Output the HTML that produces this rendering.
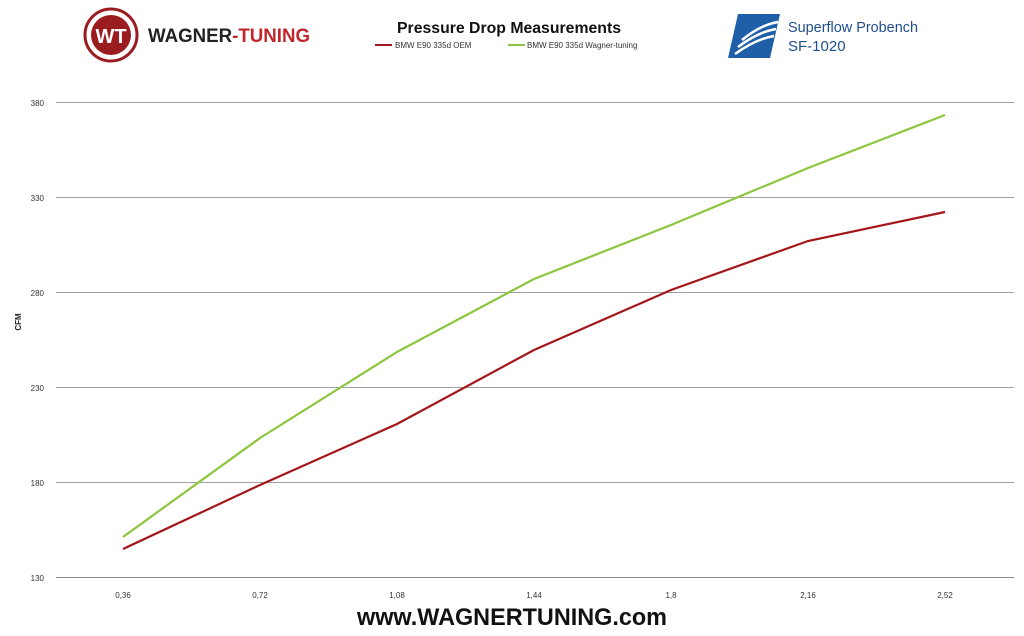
<!DOCTYPE html>
<html><head><meta charset="utf-8"><style>
body{margin:0;background:#fff;width:1024px;height:631px;overflow:hidden;font-family:"Liberation Sans",sans-serif;}
</style></head><body>
<svg width="1024" height="631" viewBox="0 0 1024 631" xmlns="http://www.w3.org/2000/svg" font-family="Liberation Sans, sans-serif">
<circle cx="111" cy="35" r="26" fill="#fff" stroke="#9b1c1f" stroke-width="3"/>
<circle cx="111" cy="35" r="20" fill="#9b1c1f"/>
<text x="111" y="43" font-size="20" font-weight="bold" fill="#fff" text-anchor="middle">WT</text>
<text x="148" y="42" font-size="19" font-weight="bold" fill="#222" textLength="162" lengthAdjust="spacingAndGlyphs">WAGNER<tspan fill="#c0262c">-TUNING</tspan></text>
<text x="509" y="33" font-size="15.5" font-weight="bold" fill="#111" text-anchor="middle" textLength="224" lengthAdjust="spacingAndGlyphs">Pressure Drop Measurements</text>
<line x1="375" y1="45" x2="392" y2="45" stroke="#9b1c1f" stroke-width="2"/>
<text x="395" y="48" font-size="8" fill="#333">BMW E90 335d OEM</text>
<line x1="508" y1="45" x2="525" y2="45" stroke="#8cc63f" stroke-width="2"/>
<text x="527" y="48" font-size="8" fill="#333">BMW E90 335d Wagner-tuning</text>
<path d="M738 14 L780 14 L770 58 L728 58 Z" fill="#1f5fa8"/>
<path d="M742 40 Q760 25 778 22 M738 47 Q758 32 776 29 M735 54 Q756 39 774 36" stroke="#fff" stroke-width="2.5" fill="none"/>
<text x="788" y="32" font-size="15" fill="#1f4e8c" textLength="130" lengthAdjust="spacingAndGlyphs">Superflow Probench</text>
<text x="788" y="51" font-size="15" fill="#1f4e8c">SF-1020</text>
<g stroke="#a0a0a0" stroke-width="1">
<line x1="56" y1="102.5" x2="1014" y2="102.5"/>
<line x1="56" y1="197.5" x2="1014" y2="197.5"/>
<line x1="56" y1="292.5" x2="1014" y2="292.5"/>
<line x1="56" y1="387.5" x2="1014" y2="387.5"/>
<line x1="56" y1="482.5" x2="1014" y2="482.5"/>
<line x1="56" y1="577.5" x2="1014" y2="577.5" stroke="#888"/>
</g>
<g font-size="8" fill="#333" text-anchor="end">
<text x="44" y="106">380</text><text x="44" y="201">330</text><text x="44" y="296">280</text>
<text x="44" y="391">230</text><text x="44" y="486">180</text><text x="44" y="581">130</text>
</g>
<text x="21" y="322" font-size="8" font-weight="bold" fill="#222" text-anchor="middle" transform="rotate(-90 21 322)">CFM</text>
<g font-size="8" fill="#333" text-anchor="middle">
<text x="123" y="598">0,36</text><text x="260" y="598">0,72</text><text x="397" y="598">1,08</text>
<text x="534" y="598">1,44</text><text x="671" y="598">1,8</text><text x="808" y="598">2,16</text><text x="945" y="598">2,52</text>
</g>
<polyline points="123,549 260,485 397,424 534,350 671,290 808,241 945,212" fill="none" stroke="#a3161a" stroke-width="2.2"/>
<polyline points="123,537 260,438 397,352 534,279 671,225 808,168 945,115" fill="none" stroke="#8cc63f" stroke-width="2.2"/>
<text x="512" y="625" font-size="24" font-weight="bold" fill="#111" text-anchor="middle" textLength="310" lengthAdjust="spacingAndGlyphs">www.WAGNERTUNING.com</text>
</svg>
</body></html>
